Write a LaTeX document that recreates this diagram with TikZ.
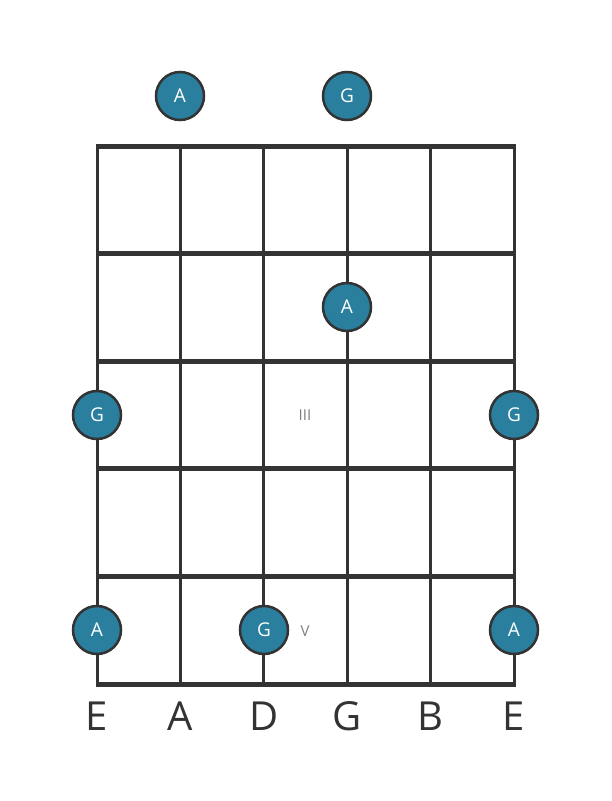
\documentclass[tikz,border=0pt]{standalone}
\usepackage{fontspec}
\setmainfont{Open Sans}
\definecolor{notefill}{HTML}{2A7F9E}
\definecolor{gridline}{HTML}{333333}
\tikzset{
  note/.style={circle,fill=notefill,draw=gridline,line width=2.5pt,minimum size=48pt,inner sep=0pt,
    text=white,font=\fontsize{19}{19}\selectfont},
  fretnum/.style={text=gray,font=\fontsize{15}{15}\selectfont},
  stringname/.style={text=gridline,font=\fontsize{40}{40}\selectfont}
}

\begin{document}
\begin{tikzpicture}[x=1pt,y=-1pt]
   \useasboundingbox (0,0) rectangle (611,801);
   \def\SX{83.4}
   \def\FY{107.6}
% Strings
   \foreach \s in {0,...,5}
      \draw [gridline,line width=3pt] (97+\s*\SX,146) -- (97+\s*\SX,684);
% Frets
   \foreach \f in {0,...,5}
      \draw [gridline,line width=5pt] (95.5,146+\f*\FY) -- (515.5,146+\f*\FY);
% Fret numbers
   \node [fretnum] (fretIII) at (305,415) {III};
   \node [fretnum] (fretV)   at (305,631) {V};
% Notes above the nut
   \node [note] (openA) at (180,96) {A};
   \node [note] (openG) at (347,96) {G};
% Notes on the frets
   \node [note] (gA2)  at (347,307) {A};
   \node [note] (lEG3) at (97,415)  {G};
   \node [note] (hEG3) at (514,415) {G};
   \node [note] (lEA5) at (97,630)  {A};
   \node [note] (dG5)  at (264,630) {G};
   \node [note] (hEA5) at (514,630) {A};
% String names
   \foreach \n/\name in {0/E,1/A,2/D,3/G,4/B,5/E}
      \node [stringname] (str\n) at (97+\n*\SX,716) {\name};
\end{tikzpicture}
\end{document}
